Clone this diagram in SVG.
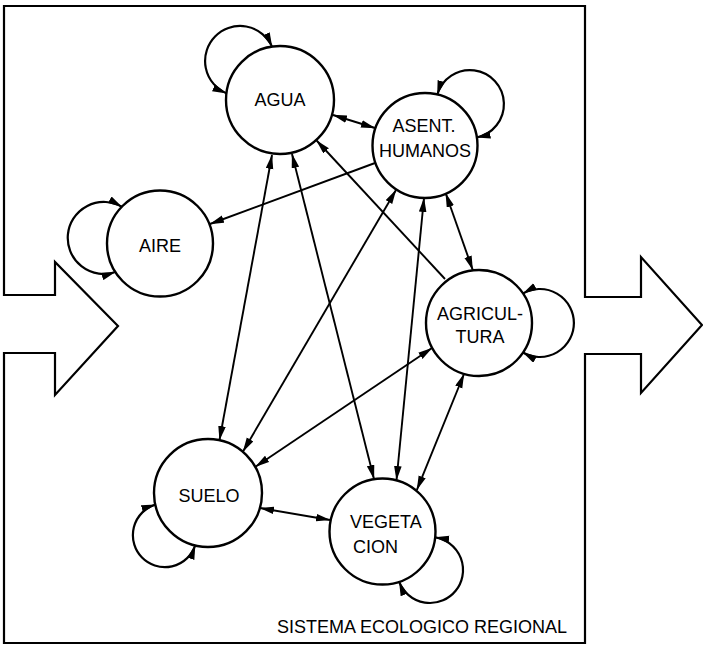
<svg xmlns="http://www.w3.org/2000/svg" width="703" height="646" viewBox="0 0 703 646">
<defs>
<style>
.frame{fill:none;stroke:#000;stroke-width:2.2;stroke-linejoin:miter}
.node circle{fill:#fff;stroke:#000;stroke-width:2.4}
.node text, .label{font-family:"Liberation Sans",Arial,Helvetica,sans-serif;font-size:18px;fill:#000}
.node text{text-anchor:middle}
.edge{fill:none;stroke:#000;stroke-width:1.9}
.loop{fill:none;stroke:#000;stroke-width:2.2}
.both{marker-start:url(#ah);marker-end:url(#ah)}
.one{marker-end:url(#ah)}
</style>
<marker id="ah" markerUnits="userSpaceOnUse" markerWidth="15" markerHeight="8" refX="14" refY="3.8" orient="auto-start-reverse" viewBox="0 0 15 8">
<path d="M0,0 L14.5,3.8 L0,7.6 Z" fill="#000"/>
</marker>
</defs>
<rect width="703" height="646" fill="#fff"/>
<path class="frame" d="M4,6 H585 V297 H641 V257 L702,325 L641,393 V354 H585 V643 H4 V353 H55 V395 L118,326 L55,262 V295 H4 Z"/>
<g id="agua" class="node"><circle cx="280" cy="100" r="54"/><text x="280" y="106">AGUA</text></g>
<g id="asent" class="node"><circle cx="425" cy="145.5" r="52.5"/><text x="424" y="132">ASENT.</text><text x="425" y="157">HUMANOS</text></g>
<g id="aire" class="node"><circle cx="160" cy="243.5" r="53"/><text x="160" y="252">AIRE</text></g>
<g id="agricultura" class="node"><circle cx="479" cy="323" r="53"/><text x="480" y="320">AGRICUL-</text><text x="480" y="343">TURA</text></g>
<g id="suelo" class="node"><circle cx="208" cy="493" r="54"/><text x="209" y="502">SUELO</text></g>
<g id="vegetacion" class="node"><circle cx="382.5" cy="531.5" r="53"/><text x="350" y="528" style="text-anchor:start">VEGETA</text><text x="353" y="553" style="text-anchor:start">CION</text></g>
<g id="connectors">
<line class="edge both" x1="333" y1="115" x2="375" y2="128"/>
<line class="edge one" x1="375" y1="163" x2="210" y2="224"/>
<line class="edge both" x1="272" y1="155" x2="219.5" y2="440"/>
<line class="edge both" x1="292" y1="154" x2="374" y2="479"/>
<line class="edge one" x1="445" y1="279" x2="316.6" y2="140.5"/>
<line class="edge both" x1="396" y1="190" x2="243" y2="451.5"/>
<line class="edge both" x1="424" y1="198" x2="396.5" y2="480"/>
<line class="edge both" x1="445.7" y1="193.2" x2="472.7" y2="269.9"/>
<line class="edge both" x1="432" y1="348" x2="255.5" y2="466.7"/>
<line class="edge both" x1="464" y1="374" x2="416.9" y2="489.8"/>
<line class="edge both" x1="260" y1="508" x2="330" y2="520"/>
<path class="loop both" d="M226.4,93.2 A35,35 0 1 1 272,46.6"/>
<path class="loop both" d="M437.3,94.5 A34,34 0 1 1 476.5,137.5"/>
<path class="loop both" d="M121.8,206.8 A36,36 0 1 0 115.4,272"/>
<path class="loop both" d="M523,293.5 A34,34 0 1 1 523,352.5"/>
<path class="loop both" d="M155.3,504.6 A32,32 0 1 0 195.2,545.4"/>
<path class="loop both" d="M435.2,537.4 A33,33 0 1 1 399.2,581.8"/>
</g>
<text class="label" x="277" y="633">SISTEMA ECOLOGICO REGIONAL</text>
</svg>
